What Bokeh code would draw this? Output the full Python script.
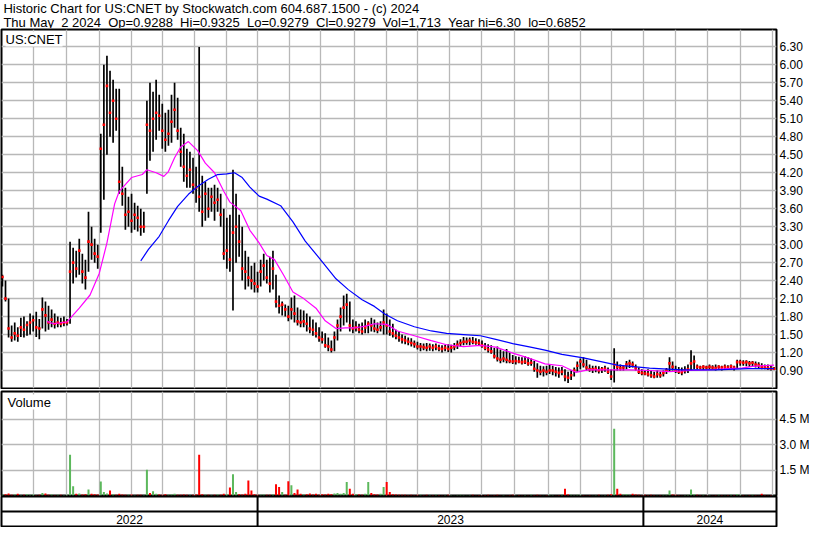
from bokeh.plotting import figure
from bokeh.layouts import column
from bokeh.models import (Range1d, FixedTicker, Label, Span, ColumnDataSource,
                          LinearAxis, NumeralTickFormatter)
from bokeh.embed import file_html
from bokeh.resources import INLINE
from bokeh.core.properties import value

# ---------------- data (one bar per two trading days) ----------------
highs = [
    2.50, 2.40, 2.10, 1.65, 1.70, 1.62, 1.78, 1.80, 1.72, 1.85,
    1.82, 1.88, 1.76, 2.12, 2.05, 1.98, 1.92, 1.85, 1.80, 1.78,
    1.80, 1.76, 3.05, 2.95, 2.90, 3.10, 2.85, 2.75, 3.55, 3.30,
    3.10, 3.00, 4.85, 6.00, 6.15, 5.90, 5.75, 5.60, 5.60, 4.30,
    3.95, 3.80, 3.85, 3.70, 3.65, 3.60, 3.55, 5.40, 5.70, 5.55,
    5.75, 5.50, 5.35, 5.20, 5.25, 5.50, 5.70, 5.45, 4.95, 4.85,
    4.60, 4.55, 4.45, 4.30, 6.30, 4.15, 4.05, 3.95, 3.95, 4.00,
    3.95, 3.85, 3.60, 3.45, 3.50, 4.25, 3.85, 3.50, 3.30, 2.90,
    2.80, 2.65, 2.70, 2.55, 2.75, 2.85, 2.75, 2.80, 2.90, 2.50,
    2.15, 2.05, 2.00, 1.98, 2.12, 2.15, 1.95, 1.92, 1.90, 1.85,
    1.80, 1.75, 1.70, 1.62, 1.55, 1.52, 1.45, 1.40, 1.55, 1.75,
    1.95, 2.15, 2.18, 2.05, 1.75, 1.72, 1.68, 1.70, 1.75, 1.72,
    1.78, 1.75, 1.70, 1.72, 1.92, 1.85, 1.75, 1.68, 1.58, 1.55,
    1.50, 1.48, 1.45, 1.44, 1.40, 1.38, 1.36, 1.35, 1.36, 1.35,
    1.34, 1.35, 1.33, 1.32, 1.33, 1.34, 1.33, 1.36, 1.40, 1.42,
    1.46, 1.45, 1.45, 1.46, 1.44, 1.42, 1.40, 1.36, 1.34, 1.32,
    1.28, 1.30, 1.25, 1.22, 1.26, 1.20, 1.16, 1.14, 1.13, 1.12,
    1.14, 1.12, 1.10, 1.06, 1.02, 0.98, 0.97, 0.98, 1.00, 0.98,
    0.96, 0.95, 0.96, 0.92, 0.88, 0.90, 0.95, 1.05, 1.10, 1.12,
    1.08, 1.00, 0.98, 0.98, 0.97, 0.96, 0.98, 0.95, 0.92, 1.27,
    1.05, 1.00, 0.98, 1.06, 1.08, 1.05, 1.00, 0.95, 0.92, 0.90,
    0.92, 0.90, 0.88, 0.90, 0.88, 0.90, 0.94, 1.12, 1.05, 0.98,
    0.96, 0.95, 0.97, 1.00, 1.24, 1.15, 1.00, 0.98, 0.99, 0.98,
    1.00, 0.99, 1.00, 0.99, 0.98, 1.00, 0.99, 1.00, 0.98, 1.08,
    1.08, 1.07, 1.07, 1.06, 1.06, 1.05, 1.04, 1.02, 1.00, 1.00,
    0.98, 0.96,
]
lows = [
    2.30, 2.05, 1.45, 1.38, 1.40, 1.38, 1.46, 1.45, 1.48, 1.50,
    1.55, 1.46, 1.42, 1.60, 1.55, 1.58, 1.62, 1.60, 1.62, 1.62,
    1.64, 1.65, 1.68, 2.35, 2.45, 2.50, 2.35, 2.25, 2.55, 2.75,
    2.70, 2.60, 3.20, 3.75, 4.50, 4.80, 4.70, 4.90, 3.85, 3.65,
    3.25, 3.30, 3.20, 3.25, 3.22, 3.15, 3.20, 3.85, 4.40, 4.55,
    4.75, 4.90, 4.60, 4.55, 4.65, 4.70, 4.95, 4.75, 4.30, 4.05,
    3.95, 3.95, 3.85, 3.70, 3.55, 3.30, 3.40, 3.45, 3.55, 3.40,
    3.55, 3.30, 2.75, 2.60, 2.55, 1.90, 2.70, 2.80, 2.40, 2.25,
    2.30, 2.25, 2.20, 2.20, 2.30, 2.40, 2.35, 2.20, 2.25, 1.95,
    1.85, 1.82, 1.80, 1.72, 1.75, 1.70, 1.65, 1.62, 1.62, 1.55,
    1.52, 1.48, 1.45, 1.38, 1.35, 1.28, 1.22, 1.20, 1.22, 1.40,
    1.55, 1.65, 1.70, 1.55, 1.52, 1.55, 1.52, 1.50, 1.52, 1.52,
    1.55, 1.54, 1.52, 1.55, 1.50, 1.50, 1.48, 1.45, 1.42, 1.38,
    1.35, 1.34, 1.32, 1.30, 1.28, 1.25, 1.22, 1.24, 1.22, 1.23,
    1.22, 1.24, 1.22, 1.20, 1.22, 1.21, 1.20, 1.24, 1.26, 1.30,
    1.32, 1.33, 1.32, 1.34, 1.33, 1.32, 1.28, 1.24, 1.20, 1.18,
    1.10, 1.05, 1.02, 1.04, 1.02, 1.02, 1.01, 1.00, 1.02, 1.00,
    1.01, 0.98, 0.98, 0.88, 0.78, 0.82, 0.80, 0.82, 0.84, 0.82,
    0.80, 0.78, 0.82, 0.72, 0.69, 0.74, 0.80, 0.88, 0.92, 0.95,
    0.90, 0.88, 0.86, 0.87, 0.85, 0.86, 0.88, 0.84, 0.74, 0.70,
    0.90, 0.90, 0.90, 0.92, 0.94, 0.95, 0.90, 0.84, 0.82, 0.82,
    0.80, 0.78, 0.77, 0.78, 0.78, 0.80, 0.84, 0.88, 0.90, 0.86,
    0.84, 0.82, 0.85, 0.86, 0.90, 0.92, 0.92, 0.92, 0.91, 0.92,
    0.92, 0.91, 0.90, 0.91, 0.90, 0.92, 0.91, 0.92, 0.90, 0.93,
    0.98, 0.98, 0.97, 0.96, 0.97, 0.95, 0.94, 0.92, 0.92, 0.91,
    0.90, 0.92,
]
closes = [
    2.46, 2.10, 1.60, 1.45, 1.52, 1.48, 1.62, 1.58, 1.66, 1.70,
    1.74, 1.62, 1.60, 1.92, 1.82, 1.70, 1.75, 1.68, 1.70, 1.68,
    1.70, 1.70, 2.55, 2.70, 2.60, 2.90, 2.55, 2.45, 3.05, 3.00,
    2.85, 2.80, 4.60, 5.00, 5.65, 5.20, 5.40, 5.10, 4.05, 3.85,
    3.50, 3.55, 3.40, 3.50, 3.45, 3.30, 3.30, 5.00, 4.90, 5.10,
    5.20, 5.15, 4.90, 4.75, 4.85, 5.05, 5.25, 4.90, 4.55, 4.30,
    4.15, 4.25, 4.00, 3.95, 3.80, 3.55, 3.85, 3.60, 3.80, 3.70,
    3.75, 3.50, 2.85, 2.90, 2.75, 3.20, 3.30, 3.05, 2.60, 2.55,
    2.45, 2.40, 2.35, 2.30, 2.55, 2.65, 2.45, 2.35, 2.60, 2.05,
    1.98, 2.00, 1.92, 1.80, 1.92, 1.85, 1.72, 1.70, 1.72, 1.68,
    1.60, 1.58, 1.52, 1.45, 1.42, 1.32, 1.30, 1.25, 1.45, 1.65,
    1.80, 1.95, 2.00, 1.65, 1.60, 1.62, 1.58, 1.55, 1.62, 1.68,
    1.65, 1.60, 1.58, 1.62, 1.70, 1.65, 1.55, 1.52, 1.48, 1.45,
    1.42, 1.40, 1.38, 1.36, 1.34, 1.30, 1.30, 1.29, 1.28, 1.30,
    1.28, 1.30, 1.27, 1.26, 1.28, 1.26, 1.28, 1.30, 1.33, 1.36,
    1.38, 1.38, 1.40, 1.38, 1.37, 1.36, 1.32, 1.28, 1.25, 1.22,
    1.14, 1.10, 1.08, 1.10, 1.08, 1.06, 1.05, 1.06, 1.05, 1.04,
    1.05, 1.02, 1.03, 0.93, 0.90, 0.88, 0.90, 0.88, 0.90, 0.90,
    0.88, 0.86, 0.88, 0.80, 0.78, 0.82, 0.90, 0.98, 1.05, 1.00,
    0.95, 0.92, 0.92, 0.93, 0.90, 0.92, 0.93, 0.88, 0.80, 1.00,
    0.96, 0.94, 0.95, 1.00, 1.02, 1.00, 0.94, 0.88, 0.86, 0.85,
    0.84, 0.82, 0.80, 0.84, 0.82, 0.86, 0.90, 1.02, 0.96, 0.90,
    0.88, 0.87, 0.90, 0.92, 1.02, 1.05, 0.96, 0.95, 0.96, 0.95,
    0.96, 0.95, 0.94, 0.96, 0.95, 0.96, 0.95, 0.97, 0.95, 1.04,
    1.04, 1.03, 1.04, 1.02, 1.03, 1.00, 0.99, 0.96, 0.95, 0.94,
    0.93, 0.93,
]
volumes_m = [
    0.05, 0.08, 0.12, 0.04, 0.06, 0.10, 0.03, 0.05, 0.07, 0.04,
    0.06, 0.03, 0.05, 0.15, 0.12, 0.04, 0.06, 0.03, 0.05, 0.04,
    0.03, 0.05, 2.41, 0.55, 0.10, 0.12, 0.06, 0.08, 0.35, 0.10,
    0.08, 0.06, 0.83, 0.20, 0.12, 0.30, 0.08, 0.05, 0.10, 0.06,
    0.05, 0.04, 0.06, 0.03, 0.05, 0.04, 0.03, 1.52, 0.15, 0.25,
    0.10, 0.06, 0.05, 0.08, 0.04, 0.06, 0.10, 0.05, 0.04, 0.06,
    0.05, 0.03, 0.04, 0.06, 2.41, 0.08, 0.05, 0.04, 0.03, 0.05,
    0.06, 0.04, 0.10, 0.08, 0.48, 1.25, 0.20, 0.08, 0.06, 0.10,
    0.88, 0.30, 0.08, 0.05, 0.04, 0.06, 0.05, 0.04, 0.06, 0.67,
    0.50, 0.20, 0.05, 0.85, 0.60, 0.15, 0.35, 0.10, 0.06, 0.08,
    0.12, 0.06, 0.10, 0.05, 0.08, 0.06, 0.10, 0.08, 0.12, 0.15,
    0.10, 0.15, 0.80, 0.40, 0.10, 0.08, 0.06, 0.05, 0.10, 0.80,
    0.15, 0.08, 0.06, 0.10, 0.50, 0.80, 0.20, 0.08, 0.06, 0.05,
    0.04, 0.05, 0.03, 0.04, 0.03, 0.05, 0.04, 0.03, 0.04, 0.03,
    0.03, 0.04, 0.03, 0.02, 0.03, 0.04, 0.03, 0.02, 0.03, 0.04,
    0.03, 0.02, 0.03, 0.04, 0.02, 0.03, 0.02, 0.03, 0.04, 0.02,
    0.03, 0.04, 0.02, 0.03, 0.02, 0.03, 0.04, 0.02, 0.03, 0.02,
    0.03, 0.02, 0.04, 0.03, 0.05, 0.03, 0.02, 0.03, 0.04, 0.03,
    0.02, 0.03, 0.05, 0.40, 0.06, 0.04, 0.03, 0.05, 0.04, 0.03,
    0.02, 0.03, 0.02, 0.03, 0.04, 0.02, 0.03, 0.05, 0.08, 3.95,
    0.40, 0.10, 0.06, 0.08, 0.05, 0.10, 0.06, 0.04, 0.03, 0.05,
    0.03, 0.04, 0.03, 0.02, 0.03, 0.04, 0.05, 0.30, 0.06, 0.04,
    0.03, 0.02, 0.03, 0.04, 0.35, 0.08, 0.05, 0.03, 0.04, 0.02,
    0.03, 0.02, 0.03, 0.04, 0.03, 0.02, 0.03, 0.04, 0.03, 0.08,
    0.04, 0.03, 0.02, 0.03, 0.05, 0.03, 0.02, 0.10, 0.03, 0.02,
    0.03, 0.02,
]
days_per_bar = 2

# moving averages (trading-day index, value)
ma_fast_day = [29, 33, 42, 50, 57, 63, 68, 73, 76, 84, 91, 94, 100, 105, 108, 112,
               116, 121, 127, 132, 138, 144, 148, 155, 161, 167, 172, 177, 183, 189,
               196, 204, 210, 217, 223, 229, 236, 242, 250, 257, 268, 279, 289, 300,
               311, 321, 332, 342, 353, 364, 373, 381, 396, 408, 421, 434, 447, 459,
               472, 481, 488, 502]
ma_fast = [1.72, 1.68, 1.71, 1.94, 2.16, 2.52, 3.03, 3.68, 3.89, 4.12, 4.17, 4.25,
           4.20, 4.14, 4.22, 4.45, 4.63, 4.72, 4.57, 4.36, 4.20, 3.89, 3.71, 3.57,
           3.24, 3.03, 2.82, 2.75, 2.49, 2.21, 2.10, 1.94, 1.73, 1.60, 1.61, 1.61,
           1.64, 1.68, 1.67, 1.56, 1.48, 1.40, 1.33, 1.30, 1.32, 1.29, 1.19, 1.11,
           1.01, 0.98, 0.87, 0.91, 0.91, 0.91, 0.90, 0.88, 0.90, 0.91, 0.93, 0.94,
           0.97, 0.99]
ma_slow_day = [90, 95, 102, 108, 114, 121, 127, 134, 140, 146, 151, 156, 161, 167,
               172, 181, 189, 197, 206, 217, 225, 234, 242, 249, 257, 268, 279, 289,
               300, 311, 321, 332, 342, 353, 364, 378, 400, 421, 442, 464, 485, 502]
ma_slow = [2.73, 2.92, 3.14, 3.40, 3.64, 3.84, 3.97, 4.09, 4.17, 4.18, 4.20, 4.12,
           3.96, 3.81, 3.76, 3.65, 3.38, 3.06, 2.78, 2.43, 2.25, 2.08, 1.97, 1.84,
           1.73, 1.63, 1.56, 1.52, 1.50, 1.48, 1.42, 1.35, 1.30, 1.24, 1.17, 1.11,
           0.99, 0.94, 0.91, 0.91, 0.93, 0.93]

month_starts = [20, 42, 63, 84, 104, 125, 146, 166, 187, 207, 229, 250, 270, 291,
                312, 333, 355, 376, 396, 417, 438, 459, 480, 501]
year_starts = [166, 417]
year_labels = ["2022", "2023", "2024"]
price_ticks = [0.90, 1.20, 1.50, 1.80, 2.10, 2.40, 2.70, 3.00, 3.30, 3.60, 3.90,
               4.20, 4.50, 4.80, 5.10, 5.40, 5.70, 6.00, 6.30]
vol_ticks = [1.5, 3.0, 4.5]
vol_tick_labels = ["1.5 M", "3.0 M", "4.5 M"]

NB = "\u00a0 "  # a double space that survives SVG whitespace collapsing
title_1 = "Historic Chart for US:CNET by Stockwatch.com 604.687.1500 - (c) 2024"
title_2 = ("Thu May" + NB + "2 2024" + NB + "Op=0.9288" + NB + "Hi=0.9325" + NB +
           "Lo=0.9279" + NB + "Cl=0.9279" + NB + "Vol=1,713" + NB + "Year hi=6.30" +
           NB + "lo=0.6852")
symbol = "US:CNET"

# ---------------- layout ----------------
W = 814
FONT = "Liberation Sans"
GRID = "#b8b8b8"
GREEN = "#5cb85c"
RED = "#ff0000"
x_start, x_end = -0.6, 503.6

n = len(closes)
xs = [days_per_bar * k for k in range(n)]
vol_colors = [GREEN if (k == 0 or closes[k] >= closes[k - 1]) else RED for k in range(n)]
src = ColumnDataSource(dict(x=xs, high=highs, low=lows, close=closes,
                            vol=volumes_m, color=vol_colors))

xr = Range1d(x_start, x_end)


def base_fig(height, y_range, top, bottom):
    f = figure(width=W, height=height, x_range=xr, y_range=y_range,
               output_backend="svg", toolbar_location=None,
               x_axis_type=None, y_axis_type=None,
               min_border_left=1, min_border_right=38,
               min_border_top=top, min_border_bottom=bottom)
    f.outline_line_color = "black"
    f.outline_line_width = 2
    f.outline_line_alpha = 1.0
    f.background_fill_color = "white"
    f.border_fill_color = "white"
    return f


def right_axis(f, ticks, overrides=None, fmt=None):
    ax = LinearAxis(ticker=FixedTicker(ticks=ticks, minor_ticks=[]))
    if fmt is not None:
        ax.formatter = fmt
    if overrides is not None:
        ax.major_label_overrides = overrides
    ax.axis_line_color = None
    ax.major_tick_line_color = None
    ax.minor_tick_line_color = None
    ax.major_tick_out = 0
    ax.major_tick_in = 0
    ax.major_label_standoff = 3
    ax.major_label_text_font = FONT
    ax.major_label_text_font_size = "12px"
    ax.major_label_text_color = "black"
    f.add_layout(ax, "right")


def grids(f, yticks):
    # drawn as the first glyphs so every mark sits on top of them
    f.vspan(x=month_starts, line_color=GRID, line_width=1.3)
    f.hspan(y=yticks, line_color=GRID, line_width=1.3)


# header
hdr = figure(width=W, height=28, x_range=Range1d(0, W), y_range=Range1d(0, 28),
             output_backend="svg", toolbar_location=None,
             x_axis_type=None, y_axis_type=None,
             min_border_left=0, min_border_right=0, min_border_top=0, min_border_bottom=0)
hdr.outline_line_color = None
hdr.add_layout(Label(x=2, y=27.5, text=title_1, text_font=FONT, text_font_size="13px",
                     text_baseline="top", text_color="black"))
hdr.add_layout(Label(x=2, y=14, text=title_2, text_font=FONT, text_font_size="13px",
                     text_baseline="top", text_color="black"))

# price panel
p = base_fig(361, Range1d(0.60, 6.59), 1, 1)
grids(p, price_ticks)
right_axis(p, price_ticks, fmt=NumeralTickFormatter(format="0.00"))
p.segment(x0="x", y0="low", x1="x", y1="high", source=src,
          line_color="black", line_width=1.7)
p.scatter("x", "close", source=src, marker="square", size=2.6,
          fill_color=RED, line_color=None)
p.line(ma_fast_day, ma_fast, line_color="#ff00ff", line_width=1.2)
p.line(ma_slow_day, ma_slow, line_color="#0000ff", line_width=1.2)
p.add_layout(Label(x=4, y=357, x_units="screen", y_units="screen", text=symbol,
                   text_font=FONT, text_font_size="13px", text_baseline="top",
                   text_color="black", background_fill_color="white",
                   background_fill_alpha=1.0))

# volume panel
v = base_fig(107, Range1d(0, 6.15), 2, 1)
grids(v, vol_ticks)
right_axis(v, vol_ticks, overrides={t: s for t, s in zip(vol_ticks, vol_tick_labels)})
v.vbar(x="x", top="vol", bottom=0, width=1.3, source=src,
       fill_color="color", line_color=None)
v.add_layout(Label(x=6, y=101, x_units="screen", y_units="screen", text="Volume",
                   text_font=FONT, text_font_size="13px", text_baseline="top",
                   text_color="black", background_fill_color="white",
                   background_fill_alpha=1.0))

# date band
b = base_fig(31, Range1d(0, 2), 0, 1)
b.add_layout(Span(location=1, dimension="width", line_color="black", line_width=2))
for ys in year_starts:
    b.add_layout(Span(location=ys, dimension="height", line_color="black", line_width=2))
bounds = [x_start] + year_starts + [x_end]
centers = [(bounds[i] + bounds[i + 1]) / 2 for i in range(len(year_labels))]
b.text(x=centers, y=[0.5] * len(centers), text=year_labels,
       text_font=value(FONT), text_font_size=value("12px"),
       text_align="center", text_baseline="middle", text_color="black")

layout = column(hdr, p, v, b, spacing=0)
open("out.html", "w").write(file_html(layout, INLINE))
